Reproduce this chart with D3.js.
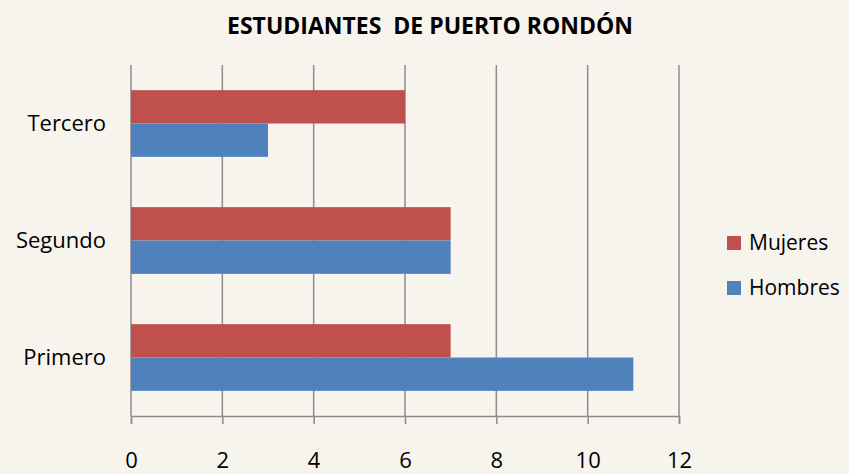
<!DOCTYPE html>
<html>
<head>
<meta charset="utf-8">
<script src="https://cdn.jsdelivr.net/npm/d3@7"></script>
<style>
  body { margin: 0; background: #f7f4ee; }
  svg { display: block; font-family: "Open Sans", sans-serif; }
</style>
</head>
<body>
<div id="chart"></div>
<script>
// data
var categories = ["Tercero", "Segundo", "Primero"];
var series = ["Mujeres", "Hombres"];
var mujeres = [6, 7, 7];
var hombres = [3, 7, 11];
var xTicks = [0, 2, 4, 6, 8, 10, 12];
var colors = {Mujeres: "#c0504d", Hombres: "#4f81bd"};

var width = 849, height = 474;
var margin = {top: 65, right: 170, bottom: 58, left: 131};
var plotW = 679 - margin.left;
var plotH = 416 - margin.top;

var svg = d3.select("#chart").append("svg")
    .attr("width", width)
    .attr("height", height);

svg.append("rect")
    .attr("width", width).attr("height", height)
    .attr("fill", "#f7f4ee");

svg.append("text")
    .attr("x", 430)
    .attr("y", 34)
    .attr("text-anchor", "middle")
    .style("font-weight", "bold")
    .style("font-size", "23px")
    .style("white-space", "pre")
    .attr("xml:space", "preserve")
    .text("ESTUDIANTES  DE PUERTO RONDÓN");

var g = svg.append("g")
    .attr("transform", "translate(" + margin.left + "," + margin.top + ")");

var x = d3.scaleLinear().domain([0, 12]).range([0, plotW]);
var y = d3.scaleBand().domain(categories).range([0, plotH])
    .paddingInner(0.43).paddingOuter(0.215);
var ySub = d3.scaleBand().domain(series).range([0, y.bandwidth()]);

// gridlines
g.append("g")
    .selectAll("line")
    .data(xTicks)
    .enter().append("line")
    .attr("x1", d => x(d)).attr("x2", d => x(d))
    .attr("y1", 0).attr("y2", plotH)
    .attr("stroke", "#8c8c8c")
    .attr("stroke-width", 1.5);

var rows = categories.map(function (c, i) {
    return {cat: c, Mujeres: mujeres[i], Hombres: hombres[i]};
});

var groups = g.selectAll(".cat")
    .data(rows)
    .enter().append("g")
    .attr("transform", d => "translate(0," + y(d.cat) + ")");

groups.selectAll("rect")
    .data(d => series.map(s => ({s: s, v: d[s]})))
    .enter().append("rect")
    .attr("x", x(0))
    .attr("y", d => ySub(d.s))
    .attr("width", d => x(d.v) - x(0))
    .attr("height", ySub.bandwidth())
    .attr("fill", d => colors[d.s]);

// x axis
var xAxis = g.append("g")
    .attr("transform", "translate(0," + plotH + ")")
    .call(d3.axisBottom(x).tickValues(xTicks).tickSize(8).tickPadding(28));
xAxis.select(".domain").attr("stroke", "#8c8c8c").attr("stroke-width", 1.5);
xAxis.selectAll(".tick line").attr("stroke", "#8c8c8c").attr("stroke-width", 1.5);
xAxis.selectAll("text").style("font-size", "22px").attr("fill", "#000")
    .style("font-family", "Open Sans, sans-serif");

// category labels
g.selectAll(".catlabel")
    .data(categories)
    .enter().append("text")
    .attr("x", -25)
    .attr("y", d => y(d) + y.bandwidth() / 2)
    .attr("dy", "0.35em")
    .attr("text-anchor", "end")
    .style("font-size", "22px")
    .text(d => d);

// legend
var legend = svg.append("g")
    .selectAll("g")
    .data(series)
    .enter().append("g")
    .attr("transform", (d, i) => "translate(727," + (243 + i * 45) + ")");
legend.append("rect")
    .attr("x", 0).attr("y", -7)
    .attr("width", 14).attr("height", 14)
    .attr("fill", d => colors[d]);
legend.append("text")
    .attr("x", 22)
    .attr("dy", "0.35em")
    .style("font-size", "21px")
    .text(d => d);
</script>
</body>
</html>
